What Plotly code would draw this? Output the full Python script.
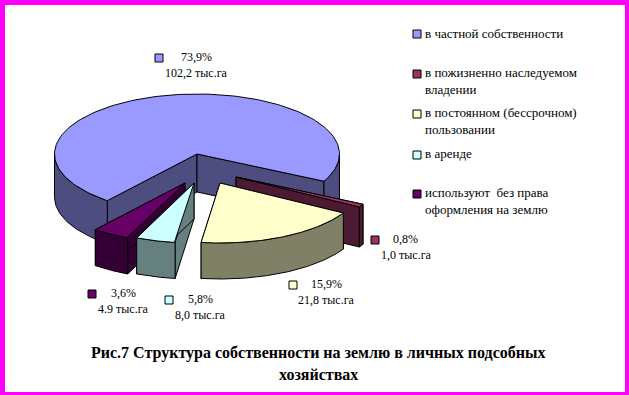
import numpy as np
import plotly.graph_objects as go

categories = ["в частной собственности", "в пожизненно наследуемом<br>владении",
              "в постоянном (бессрочном)<br>пользовании", "в аренде",
              "используют  без права<br>оформления на землю"]
area_values = [102.2, 1.0, 21.8, 8.0, 4.9]
share_labels = ["73,9%", "0,8%", "15,9%", "5,8%", "3,6%"]
area_labels = ["102,2 тыс.га", "1,0 тыс.га", "21,8 тыс.га", "8,0 тыс.га", "4.9 тыс.га"]
top_colors = ["#9999FF", "#993366", "#FFFFCC", "#CCFFFF", "#660066"]
side_colors = ["#4D4D80", "#4D1A33", "#808066", "#668080", "#330033"]
title_lines = ["Рис.7 Структура собственности на землю в личных подсобных", "хозяйствах"]

FONT = "Liberation Serif"
A, B = 142.5, 60.0
CX, CY = 197.0, 154.0
START = -27.0
OFFSETS = [(0, 0), (39, 23), (23, 29), (-3, 29), (-12, 29)]
DEPTH_OUT = [43, 40, 36, 36, 36]
DEPTH_IN = [38, 40, 36, 36, 36]
LABEL_POS = [(196, 57), (405, 239), (326, 284), (200, 299), (123, 293)]
LABEL2_POS = [(196, 73), (406, 255), (326, 300), (200, 315), (123, 309)]
MARK_POS = [(159, 58), (375, 240), (293, 285), (169, 300), (92, 294)]
LEG_Y = [34, 74, 114, 155, 194]
LEG_TEXT_Y = [33, 81, 121, 153, 201]
# view distortion of the tilted pie: true angle -> drawn angle
VIEW_IN = [0, 2.6, 59.5, 80.4, 93.2, 360]
VIEW_OUT = [0, 3.0, 70.6, 86.7, 102.0, 360]


def warp(theta):
    return START - np.interp(theta, VIEW_IN, VIEW_OUT)


def pt(t, ox, oy, d=0.0):
    r = np.radians(t)
    return CX + ox + A * np.cos(r), CY + oy - B * np.sin(r) + d


fig = go.Figure()


def poly(xs, ys, color):
    fig.add_trace(go.Scatter(x=list(xs) + [xs[0]], y=list(ys) + [ys[0]], mode="lines", fill="toself",
                             fillcolor=color, line=dict(color="black", width=1),
                             hoverinfo="skip", showlegend=False))


def wedge(i, th0, th1):
    ox, oy = OFFSETS[i]
    dout, din = DEPTH_OUT[i], DEPTH_IN[i]
    ts = warp(np.linspace(th0, th1, 160))
    ax, ay = CX + ox, CY + oy
    tx, ty = pt(ts, ox, oy)
    bx, by = pt(ts, ox, oy, dout)
    side = side_colors[i]
    for k in (0, -1):
        poly([ax, tx[k], tx[k], ax], [ay, ty[k], ty[k] + din, ay + din], side)
    idx = np.where(np.sin(np.radians(ts)) <= 0)[0]
    if len(idx):
        for g in np.split(idx, np.where(np.diff(idx) > 1)[0] + 1):
            poly(np.concatenate([tx[g], bx[g][::-1]]), np.concatenate([ty[g], by[g][::-1]]), side)
    poly(np.concatenate([[ax], tx]), np.concatenate([[ay], ty]), top_colors[i])


total = sum(area_values)
order_edges = {}
th = 0.0
for i in [1, 2, 3, 4, 0]:
    span = area_values[i] / total * 360.0
    order_edges[i] = (th, th + span)
    th += span

for i in [0, 1, 2, 4, 3]:
    wedge(i, *order_edges[i])

for xs, ys in (([p[0] for p in MARK_POS], [p[1] for p in MARK_POS]), ([417] * 5, LEG_Y)):
    fig.add_trace(go.Scatter(x=xs, y=ys, mode="markers",
                             marker=dict(symbol="square", size=8, color=top_colors,
                                         line=dict(color="black", width=1)),
                             hoverinfo="skip", showlegend=False))

ann = []
for i in range(5):
    ann.append(dict(x=LABEL_POS[i][0], y=LABEL_POS[i][1], text=share_labels[i], xanchor="center", yanchor="middle",
                    showarrow=False, font=dict(family=FONT, size=12, color="black")))
    ann.append(dict(x=LABEL2_POS[i][0], y=LABEL2_POS[i][1], text=area_labels[i], xanchor="center", yanchor="middle",
                    showarrow=False, font=dict(family=FONT, size=12, color="black")))
    ann.append(dict(x=423, y=LEG_TEXT_Y[i], text=categories[i], xanchor="left", yanchor="middle", align="left",
                    showarrow=False, font=dict(family=FONT, size=13, color="black")))
for line, y in zip(title_lines, [353, 374]):
    ann.append(dict(x=318, y=y, text="<b>" + line + "</b>", xanchor="center", yanchor="middle", showarrow=False,
                    font=dict(family=FONT, size=16, color="black")))

fig.update_layout(
    width=629, height=395, autosize=False,
    paper_bgcolor="#FF00FF", plot_bgcolor="white",
    margin=dict(l=5, r=4, t=5, b=3),
    xaxis=dict(range=[5, 625], visible=False, fixedrange=True),
    yaxis=dict(range=[392, 5], visible=False, fixedrange=True),
    annotations=ann, showlegend=False,
)
fig.write_html("out.html", config={"displayModeBar": False},
               post_script="document.body.style.margin='0';document.body.style.overflow='hidden';")
